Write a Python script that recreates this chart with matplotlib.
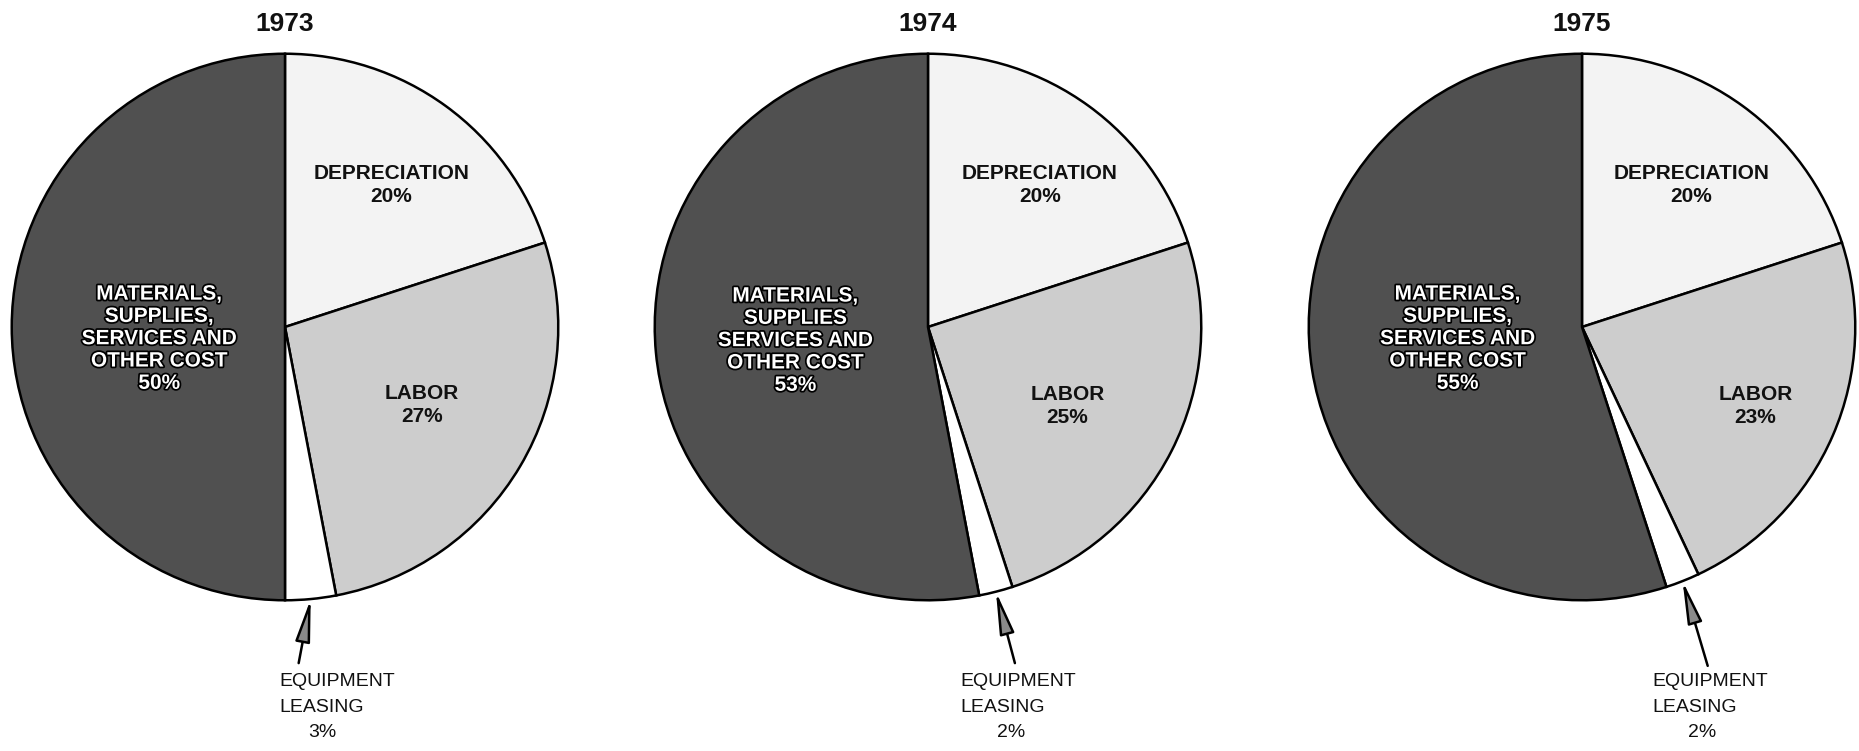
import numpy as np
import matplotlib
matplotlib.use("Agg")
import matplotlib.pyplot as plt
import matplotlib.patheffects as pe

plt.rcParams['font.family'] = ['Liberation Sans', 'DejaVu Sans']

years = ["1973", "1974", "1975"]
categories = ["DEPRECIATION", "LABOR", "EQUIPMENT LEASING", "MATERIALS"]
depreciation = [20, 20, 20]
labor = [27, 25, 23]
equipment = [3, 2, 2]
materials = [50, 53, 55]
materials_text = [
    "MATERIALS,\nSUPPLIES,\nSERVICES AND\nOTHER COST",
    "MATERIALS,\nSUPPLIES\nSERVICES AND\nOTHER COST",
    "MATERIALS,\nSUPPLIES,\nSERVICES AND\nOTHER COST",
]

colors = ["#f3f3f3", "#cdcdcd", "#ffffff", "#505050"]

# layout (pixels in the 1859x751 canvas)
W, H = 1859, 751
centers_x = [285, 928, 1582]
center_y = 327
radius = 276

# label offsets in pie units (x, y) per chart
dep_pos = [(0.39, 0.52), (0.41, 0.52), (0.40, 0.52)]
lab_pos = [(0.50, -0.285), (0.51, -0.29), (0.635, -0.29)]
mat_pos = [(-0.46, -0.043), (-0.485, -0.05), (-0.455, -0.043)]
eq_left = [-0.02, 0.12, 0.258]
eq_pct = [0.137, 0.304, 0.438]
arrow_tail = [(0.05, -1.23), (0.318, -1.23), (0.46, -1.24)]

fig = plt.figure(figsize=(W / 100, H / 100), dpi=100)

for i, year in enumerate(years):
    cx = centers_x[i]
    ax = fig.add_axes([(cx - radius) / W, (H - center_y - radius) / H,
                       2 * radius / W, 2 * radius / H])
    vals = [depreciation[i], labor[i], equipment[i], materials[i]]
    wedges, _ = ax.pie(vals, colors=colors, startangle=90, counterclock=False,
                       radius=1.0,
                       wedgeprops=dict(edgecolor="black", linewidth=1.8))
    ax.set_xlim(-1.01, 1.01)
    ax.set_ylim(-1.01, 1.01)
    ax.set_aspect("auto")
    ax.axis("off")

    ax.text(0, 1.11, year, ha="center", va="center", fontsize=19,
            fontweight="bold", color="#111111")

    lbl = dict(ha="center", va="center", fontsize=15, fontweight="bold",
               linespacing=1.3, color="#111111")
    ax.text(dep_pos[i][0], dep_pos[i][1],
            "%s\n%d%%" % (categories[0], depreciation[i]), **lbl)
    ax.text(lab_pos[i][0], lab_pos[i][1],
            "%s\n%d%%" % (categories[1], labor[i]), **lbl)
    ax.text(mat_pos[i][0], mat_pos[i][1],
            "%s\n%d%%" % (materials_text[i], materials[i]),
            ha="center", va="center", fontsize=15, fontweight="bold",
            linespacing=1.22, color="white",
            path_effects=[pe.withStroke(linewidth=2.5, foreground="black")])

    # equipment leasing callout
    w = wedges[2]
    mid = np.deg2rad((w.theta1 + w.theta2) / 2)
    tip = (np.cos(mid) * 1.0, np.sin(mid) * 1.0)
    ax.annotate("", xy=tip, xytext=arrow_tail[i],
                arrowprops=dict(arrowstyle="-|>,head_length=2.6,head_width=0.45",
                                facecolor="#8a8a8a", edgecolor="black", lw=1.8,
                                shrinkA=0, shrinkB=0),
                annotation_clip=False)
    eq = dict(fontsize=14, color="#111111")
    ax.text(eq_left[i], -1.315, "EQUIPMENT", ha="left", va="baseline", **eq)
    ax.text(eq_left[i], -1.41, "LEASING", ha="left", va="baseline", **eq)
    ax.text(eq_pct[i], -1.50, "%d%%" % equipment[i], ha="center",
            va="baseline", **eq)

fig.savefig("out.png", dpi=100, facecolor="white")
